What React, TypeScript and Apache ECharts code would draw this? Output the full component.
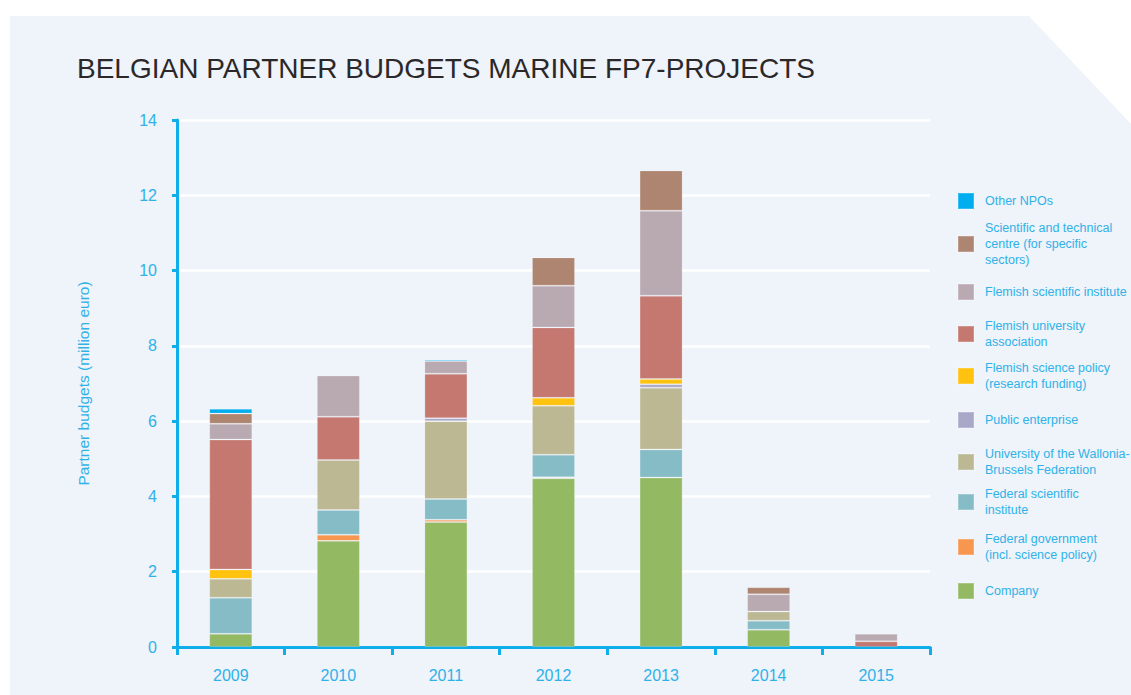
import React, { useEffect, useRef } from "react";
import * as echarts from "echarts";

const years = ["2009", "2010", "2011", "2012", "2013", "2014", "2015"];

// stack order, bottom to top
const company = [0.35, 2.82, 3.32, 4.48, 4.5, 0.46, null];
const federalGovernment = [null, 0.16, 0.06, 0.03, null, null, null];
const federalScientific = [0.96, 0.66, 0.55, 0.6, 0.75, 0.24, null];
const universityWB = [0.5, 1.33, 2.07, 1.3, 1.64, 0.24, null];
const publicEnterprise = [null, null, 0.08, null, 0.09, null, null];
const flemishSciencePolicy = [0.25, null, null, 0.21, 0.14, null, null];
const flemishUniversity = [3.45, 1.15, 1.18, 1.87, 2.21, null, 0.15];
const flemishScientific = [0.42, 1.09, 0.34, 1.11, 2.26, 0.46, 0.2];
const sciTechCentre = [0.27, null, null, 0.75, 1.07, 0.19, null];
const otherNPOs = [0.13, null, 0.04, null, null, null, null];

const yTicks = [0, 2, 4, 6, 8, 10, 12, 14];

const seriesDefs = [
  { name: "Company", label: "Company", data: company, color: "#93b963" },
  { name: "Federal government", label: "Federal government\n(incl. science policy)", data: federalGovernment, color: "#f7964f" },
  { name: "Federal scientific institute", label: "Federal scientific\ninstitute", data: federalScientific, color: "#86bcc5" },
  { name: "University of the Wallonia-Brussels Federation", label: "University of the Wallonia-\nBrussels Federation", data: universityWB, color: "#bbb893" },
  { name: "Public enterprise", label: "Public enterprise", data: publicEnterprise, color: "#a9a8c8" },
  { name: "Flemish science policy", label: "Flemish science policy\n(research funding)", data: flemishSciencePolicy, color: "#ffc20e" },
  { name: "Flemish university association", label: "Flemish university\nassociation", data: flemishUniversity, color: "#c47870" },
  { name: "Flemish scientific institute", label: "Flemish scientific institute", data: flemishScientific, color: "#b9a9b1" },
  { name: "Scientific and technical centre", label: "Scientific and technical\ncentre (for specific\nsectors)", data: sciTechCentre, color: "#ae8570" },
  { name: "Other NPOs", label: "Other NPOs", data: otherNPOs, color: "#00aeef" },
];

// legend layout: top of each item block, listed top to bottom (reverse of stack)
const legendTops = [192, 220, 283, 318, 360, 411, 446, 486, 531, 582];

const AXIS_BLUE = "#0fadea";
const TEXT_BLUE = "#2eb2e8";
const FONT = "'Liberation Sans', Arial, sans-serif";

export default function App() {
  const ref = useRef<HTMLDivElement>(null);

  useEffect(() => {
    if (!ref.current) return;
    const chart = echarts.init(ref.current, null, { renderer: "svg" });
    const legendOrder = [...seriesDefs].reverse();
    const labelMap: Record<string, string> = {};
    seriesDefs.forEach((s) => (labelMap[s.name] = s.label));

    chart.setOption({
      animation: false,
      backgroundColor: "#ffffff",
      textStyle: { fontFamily: FONT },
      graphic: [
        {
          type: "polygon",
          z: -10,
          silent: true,
          shape: {
            points: [
              [10, 16],
              [1029, 16],
              [1131, 124],
              [1131, 695],
              [10, 695],
            ],
          },
          style: { fill: "#eff3fa" },
        },
      ],
      title: {
        text: "BELGIAN PARTNER BUDGETS MARINE FP7-PROJECTS",
        left: 77,
        top: 54,
        padding: 0,
        textStyle: {
          fontFamily: FONT,
          fontSize: 28,
          fontWeight: "normal",
          color: "#2b2829",
        },
      },
      legend: legendOrder.map((s, i) => ({
        data: [s.name],
        left: 957,
        top: legendTops[i],
        padding: 0,
        itemWidth: 16,
        itemHeight: 16,
        icon: "rect",
        selectedMode: false,
        formatter: (n: string) => labelMap[n],
        textStyle: {
          fontFamily: FONT,
          fontSize: 12.5,
          lineHeight: 16,
          color: TEXT_BLUE,
          padding: [0, 0, 0, 6],
        },
      })),
      grid: { left: 177, right: 201, top: 120, bottom: 48 },
      xAxis: {
        type: "category",
        data: years,
        axisLine: { show: true, lineStyle: { color: AXIS_BLUE, width: 3 } },
        axisTick: { show: true, length: 8, interval: 0, lineStyle: { color: AXIS_BLUE, width: 3 } },
        axisLabel: { color: TEXT_BLUE, fontSize: 16, margin: 20, fontFamily: FONT },
      },
      yAxis: {
        type: "value",
        min: 0,
        max: yTicks[yTicks.length - 1],
        interval: 2,
        name: "Partner budgets (million euro)",
        nameLocation: "middle",
        nameGap: 86,
        nameTextStyle: { color: TEXT_BLUE, fontSize: 15.5, fontFamily: FONT },
        axisLine: { show: true, lineStyle: { color: AXIS_BLUE, width: 3 } },
        axisTick: { show: true, length: 5, lineStyle: { color: AXIS_BLUE, width: 3 } },
        axisLabel: { color: TEXT_BLUE, fontSize: 16, margin: 20, fontFamily: FONT },
        splitLine: { show: true, lineStyle: { color: "#ffffff", width: 2.5 } },
      },
      series: seriesDefs.map((s) => ({
        type: "bar",
        name: s.name,
        stack: "total",
        data: s.data,
        barWidth: 43,
        itemStyle: { color: s.color, borderColor: "rgba(255,255,255,0.2)", borderWidth: 1 },
      })),
    });
    return () => chart.dispose();
  }, []);

  return (
    <div
      ref={ref}
      style={{ position: "absolute", left: 0, top: 0, width: 1131, height: 695 }}
    />
  );
}
